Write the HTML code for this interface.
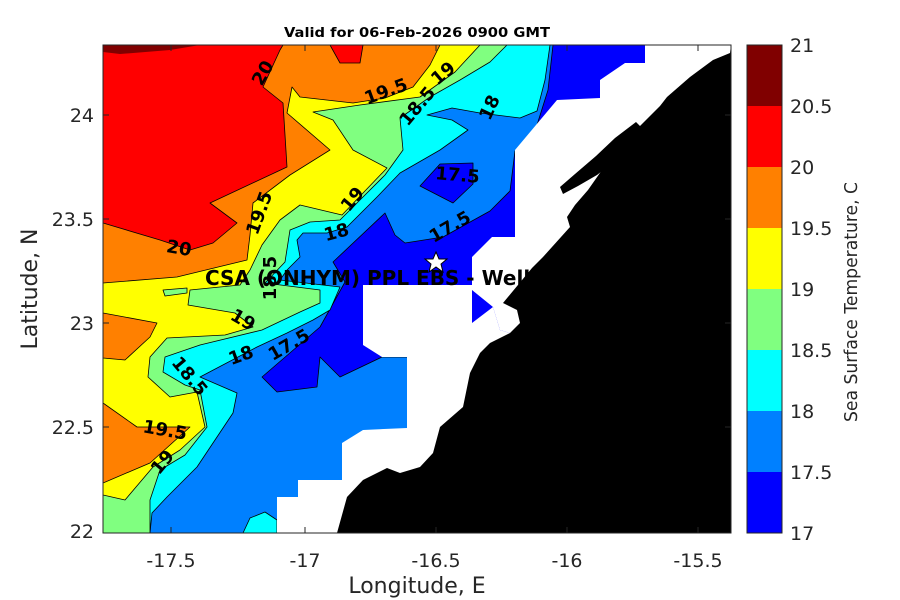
<!DOCTYPE html>
<html><head><meta charset="utf-8"><style>
body{margin:0;background:#fff;}
svg{display:block;font-family:"DejaVu Sans","Liberation Sans",sans-serif;}
.cl{font-weight:bold;font-size:18px;fill:#000;}
</style></head><body>
<svg width="900" height="600" viewBox="0 0 900 600" xmlns="http://www.w3.org/2000/svg">
<defs><clipPath id="pc"><rect x="103" y="45" width="628" height="488"/></clipPath></defs>
<g clip-path="url(#pc)" stroke="#000" stroke-width="0.8" stroke-linejoin="round">
<rect x="103" y="45" width="628" height="488" fill="#0000ff" stroke="none"/>
<polygon fill="#0080ff" points="103,45 553,45 548,90 537,125 515,151 510,191 490,211 443,237 405,243 395,235 385,213 333,262 345,282 320,327 262,377 277,392 317,387 320,357 340,377 382,357 410,357 410,533 103,533"/>
<polygon fill="#0000ff" points="420,186 440,164 473,163 473,184 453,203"/>
<polygon fill="#00ffff" points="103,45 550,45 545,80 537,111 520,118 480,113 452,108 427,115 452,120 468,130 440,150 400,173 377,197 347,227 327,233 303,233 297,240 300,257 287,270 280,280 340,287 330,310 313,320 287,333 257,347 200,377 237,393 233,413 217,437 197,467 167,497 152,513 150,533 103,533"/>
<polygon fill="#00ffff" points="243,533 250,518 265,512 277,520 277,533"/>
<polygon fill="#80ff80" points="103,45 507,45 490,62 460,80 430,97 400,118 403,150 385,175 360,200 340,220 310,222 290,230 285,262 265,283 320,290 320,303 300,312 262,330 200,345 165,357 163,372 185,385 200,390 207,427 185,455 160,470 150,500 150,533 103,533"/>
<polygon fill="#ffff00" points="103,45 480,45 455,72 420,97 360,105 313,112 333,120 353,150 387,168 342,215 300,205 280,220 262,245 250,270 240,285 190,290 188,305 235,313 253,327 225,335 167,338 150,357 148,377 170,397 197,392 205,427 180,450 153,467 125,500 103,495"/>
<polygon fill="#80ff80" points="163,290 187,288 187,293 165,296"/>
<polygon fill="#ff8000" points="103,45 440,45 430,65 413,87 385,98 353,103 300,97 292,87 287,113 330,150 290,175 253,203 250,235 247,260 177,277 103,283"/>
<polygon fill="#ff8000" points="103,313 157,323 150,337 125,360 103,358"/>
<polygon fill="#ff8000" points="103,403 137,427 190,427 150,463 103,483"/>
<polygon fill="#ff0000" points="103,45 283,45 280,50 263,87 283,103 287,167 210,203 237,223 213,243 190,250 160,240 103,223"/>
<polygon fill="#ff0000" points="330,45 363,45 360,63 340,63"/>
<polygon fill="#800000" stroke="none" points="103,45 200,45 170,50 120,54 103,52"/>
<polygon fill="#fff" stroke="none" points="645,45 731,45 731,400 500,330 493,307 472,290 472,257 492,237 515,237 515,150 557,100 600,98 600,80 625,63 645,63"/>
<polygon fill="#fff" stroke="none" points="363,285 472,285 472,323 493,307 500,330 731,400 731,533 277,533 277,497 298,497 298,480 342,480 342,443 363,430 407,428 407,357 382,357 363,345"/>
</g>
<g class="cl" text-anchor="middle">
<text transform="translate(268,76) rotate(-60)">20</text>
<text transform="translate(388,97) rotate(-20)">19.5</text>
<text transform="translate(447,78) rotate(-40)">19</text>
<text transform="translate(422,110) rotate(-50)">18.5</text>
<text transform="translate(495,110) rotate(-65)">18</text>
<text transform="translate(457,181) rotate(5)">17.5</text>
<text transform="translate(453,232) rotate(-30)">17.5</text>
<text transform="translate(265,215) rotate(-70)">19.5</text>
<text transform="translate(357,203) rotate(-50)">19</text>
<text transform="translate(338,238) rotate(-15)">18</text>
<text transform="translate(178,254) rotate(10)">20</text>
<text transform="translate(276,278) rotate(-90)">18.5</text>
<text transform="translate(240,325) rotate(30)">19</text>
<text transform="translate(243,361) rotate(-20)">18</text>
<text transform="translate(292,350) rotate(-30)">17.5</text>
<text transform="translate(185,380) rotate(50)">18.5</text>
<text transform="translate(164,436) rotate(10)">19.5</text>
<text transform="translate(167,466) rotate(-50)">19</text>
</g>
<text x="205" y="285" font-weight="bold" font-size="20" fill="#000">CSA (ONHYM) PPL EBS  - Well</text>
<polygon points="436,252 439,259 447,259 441,264 443,272 436,267 429,272 431,264 425,259 433,259" fill="#fff" stroke="#000" stroke-width="1"/>
<g clip-path="url(#pc)">
<polygon fill="#000" points="731,45 730,53 713,60 690,77 667,97 660,106 640,126 620,148 602,170 588,190 575,205 567,217 570,227 543,257 532,268 503,303 517,310 520,323 510,333 490,343 480,353 470,373 463,407 440,427 433,453 420,467 400,473 387,468 363,480 347,497 337,533 731,533"/>
<polygon fill="#000" points="636,122 641,127 632,143 616,160 597,175 578,186 563,194 560,187 575,174 596,156 615,138"/>
</g>
<rect x="103" y="45" width="628" height="488" fill="none" stroke="#262626" stroke-width="1"/>
<g stroke="#262626" stroke-width="1">
<line x1="171" y1="533" x2="171" y2="527"/><line x1="305" y1="533" x2="305" y2="527"/><line x1="436" y1="533" x2="436" y2="527"/><line x1="567" y1="533" x2="567" y2="527"/><line x1="698" y1="533" x2="698" y2="527"/>
<line x1="171" y1="45" x2="171" y2="51"/><line x1="305" y1="45" x2="305" y2="51"/><line x1="436" y1="45" x2="436" y2="51"/><line x1="567" y1="45" x2="567" y2="51"/><line x1="698" y1="45" x2="698" y2="51"/>
<line x1="103" y1="115" x2="109" y2="115"/><line x1="103" y1="219" x2="109" y2="219"/><line x1="103" y1="323" x2="109" y2="323"/><line x1="103" y1="427" x2="109" y2="427"/>
<line x1="731" y1="115" x2="725" y2="115"/><line x1="731" y1="219" x2="725" y2="219"/><line x1="731" y1="323" x2="725" y2="323"/><line x1="731" y1="427" x2="725" y2="427"/>
</g>
<g font-size="19" fill="#262626" text-anchor="middle">
<text x="171" y="567">-17.5</text><text x="305" y="567">-17</text><text x="436" y="567">-16.5</text><text x="567" y="567">-16</text><text x="698" y="567">-15.5</text>
</g>
<g font-size="19" fill="#262626" text-anchor="end">
<text x="94" y="122">24</text><text x="94" y="226">23.5</text><text x="94" y="330">23</text><text x="94" y="434">22.5</text><text x="94" y="538">22</text>
</g>
<text x="417" y="37" font-size="13" font-weight="bold" text-anchor="middle" fill="#000" textLength="266" lengthAdjust="spacingAndGlyphs">Valid for 06-Feb-2026 0900 GMT</text>
<text x="417" y="593" font-size="22" text-anchor="middle" fill="#262626">Longitude, E</text>
<text transform="translate(37,289) rotate(-90)" font-size="22" text-anchor="middle" fill="#262626">Latitude, N</text>
<g>
<rect x="747" y="45" width="35" height="61" fill="#800000"/>
<rect x="747" y="106" width="35" height="61" fill="#ff0000"/>
<rect x="747" y="167" width="35" height="61" fill="#ff8000"/>
<rect x="747" y="228" width="35" height="61" fill="#ffff00"/>
<rect x="747" y="289" width="35" height="61" fill="#80ff80"/>
<rect x="747" y="350" width="35" height="61" fill="#00ffff"/>
<rect x="747" y="411" width="35" height="61" fill="#0080ff"/>
<rect x="747" y="472" width="35" height="61" fill="#0000ff"/>
<rect x="747" y="45" width="35" height="488" fill="none" stroke="#262626" stroke-width="1"/>
</g>
<g font-size="19" fill="#262626">
<text x="790" y="52">21</text><text x="790" y="113">20.5</text><text x="790" y="174">20</text><text x="790" y="235">19.5</text><text x="790" y="296">19</text><text x="790" y="357">18.5</text><text x="790" y="418">18</text><text x="790" y="479">17.5</text><text x="790" y="540">17</text>
</g>
<text transform="translate(857,302) rotate(-90)" font-size="18" text-anchor="middle" fill="#262626" textLength="240" lengthAdjust="spacingAndGlyphs">Sea Surface Temperature, C</text>
</svg>
</body></html>
